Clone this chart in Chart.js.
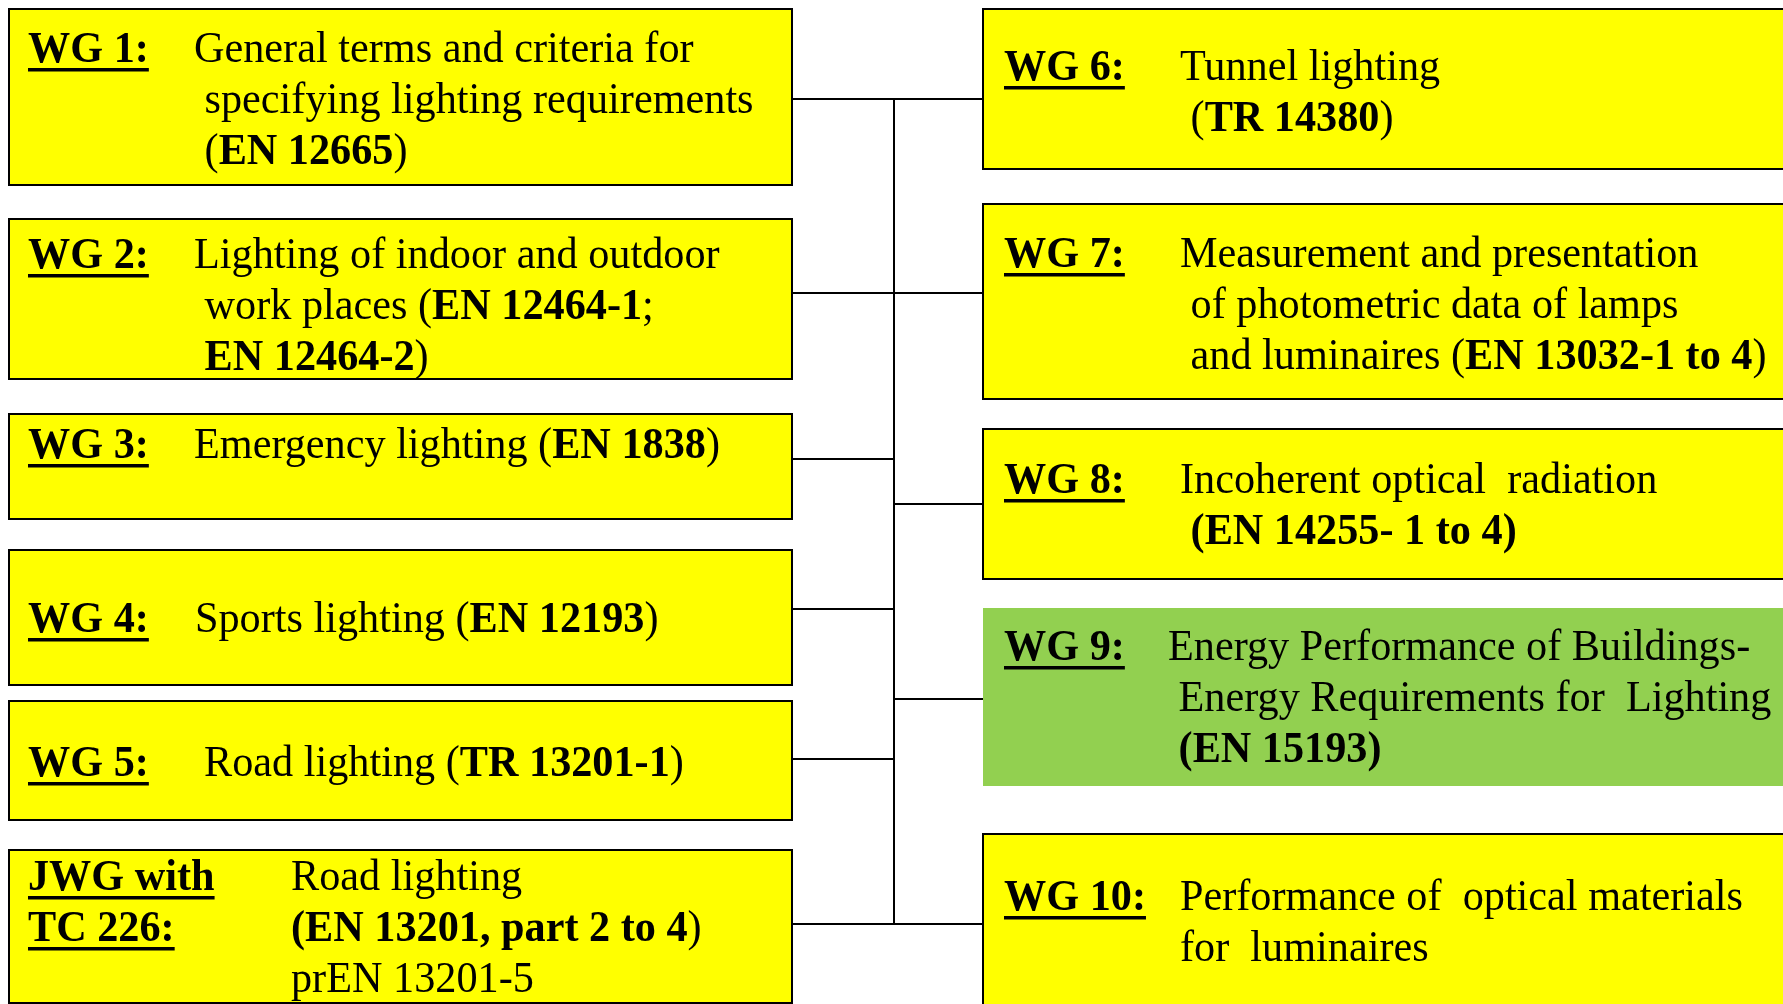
<!DOCTYPE html>
<html lang="en">
<head>
  <meta charset="UTF-8">
  <title>CEN/TC 169 working groups</title>
  <script src="https://cdn.jsdelivr.net/npm/chart.js"></script>
  <style>
    body {
      margin: 0;
      background: #fff;
      overflow: hidden;
    }
    #chart {
      display: block;
    }
  </style>
</head>
<body>
<canvas id="chart" width="1783" height="1004"></canvas>

<script>
// group names and their titles (**...** = bold)
const groupLabels = [
  ["WG 1:"], ["WG 2:"], ["WG 3:"], ["WG 4:"], ["WG 5:"], ["JWG with", "TC 226:"],
  ["WG 6:"], ["WG 7:"], ["WG 8:"], ["WG 9:"], ["WG 10:"]
];
const groupTitles = [
  ["General terms and criteria for", " specifying lighting requirements", " (**EN 12665**)"],
  ["Lighting of indoor and outdoor", " work places (**EN 12464-1**;", " **EN 12464-2**)"],
  ["Emergency lighting (**EN 1838**)"],
  ["Sports lighting (**EN 12193**)"],
  ["Road lighting (**TR 13201-1**)"],
  ["Road lighting", "**(EN 13201, part 2 to 4**)", "prEN 13201-5"],
  ["Tunnel lighting", " (**TR 14380**)"],
  ["Measurement and presentation", " of photometric data of lamps", " and luminaires (**EN 13032-1 to 4**)"],
  ["Incoherent optical  radiation", " **(EN 14255- 1 to 4)**"],
  ["Energy Performance of Buildings-", " Energy Requirements for  Lighting", " **(EN 15193)**"],
  ["Performance of  optical materials", "for  luminaires"]
];

// layout (diagram units = pixels of the original picture)
const boxLeft   = [9, 9, 9, 9, 9, 9, 983, 983, 983, 983, 983];
const boxRight  = [792, 792, 792, 792, 792, 792, 1800, 1800, 1800, 1800, 1800];
const boxTop    = [9, 219, 414, 550, 701, 850, 9, 204, 429, 608, 834];
const boxBottom = [185, 379, 519, 685, 820, 1003, 169, 399, 579, 786, 1020];
const boxFill   = ["#ffff00", "#ffff00", "#ffff00", "#ffff00", "#ffff00", "#ffff00",
                   "#ffff00", "#ffff00", "#ffff00", "#92d050", "#ffff00"];
const boxBorder = [2, 2, 2, 2, 2, 2, 2, 2, 2, 0, 2];
const labelX    = [28, 28, 28, 28, 28, 28, 1004, 1004, 1004, 1004, 1004];
const titleX    = [194, 194, 194, 195, 204, 291, 1180, 1180, 1180, 1168, 1180];
const firstLine = [62, 268, 458, 632, 776, 890, 80, 267, 493, 660, 910];
const lineGap = 51;

const trunkX = 894;
const leftLinkY  = [99, 293, 459, 609, 759, 924];
const rightLinkY = [99, 293, 504, 699, 924];

const FONT = '"Liberation Serif", "Times New Roman", serif';
const FONT_SIZE = 44;
const H_SCALE = 0.96;

const datasets = [];
boxLeft.forEach((l, i) => {
  const r = boxRight[i], t = boxTop[i], b = boxBottom[i];
  datasets.push({
    data: [{x: l, y: t}, {x: r, y: t}, {x: r, y: b}, {x: l, y: b}, {x: l, y: t}, {x: r, y: t}],
    showLine: true,
    fill: 'shape',
    backgroundColor: boxFill[i],
    borderColor: '#000',
    borderWidth: boxBorder[i],
    borderJoinStyle: 'miter',
    pointRadius: 0,
    tension: 0
  });
});

function link(x0, x1, y) {
  datasets.push({
    data: [{x: x0, y: y}, {x: x1, y: y}],
    showLine: true,
    fill: false,
    borderColor: '#000',
    borderWidth: 2,
    pointRadius: 0
  });
}
datasets.push({
  data: [{x: trunkX, y: leftLinkY[0]}, {x: trunkX, y: leftLinkY[leftLinkY.length - 1]}],
  showLine: true, fill: false, borderColor: '#000', borderWidth: 2, pointRadius: 0
});
leftLinkY.forEach(y => link(boxRight[0], trunkX, y));
rightLinkY.forEach(y => link(trunkX, boxLeft[6], y));

function drawRich(ctx, text, x, y) {
  const parts = text.split('**');
  ctx.save();
  ctx.translate(x, y);
  ctx.scale(H_SCALE, 1);
  let cx = 0;
  parts.forEach((p, k) => {
    if (!p) return;
    ctx.font = (k % 2 ? 'bold ' : '') + FONT_SIZE + 'px ' + FONT;
    ctx.fillText(p, cx, 0);
    cx += ctx.measureText(p).width;
  });
  ctx.restore();
}

const textPlugin = {
  id: 'boxText',
  afterDatasetsDraw(chart) {
    const ctx = chart.ctx;
    const sx = chart.scales.x, sy = chart.scales.y;
    ctx.save();
    ctx.fillStyle = '#000';
    ctx.textBaseline = 'alphabetic';
    groupLabels.forEach((lines, i) => {
      lines.forEach((s, j) => {
        const px = sx.getPixelForValue(labelX[i]);
        const py = sy.getPixelForValue(firstLine[i] + j * lineGap);
        ctx.save();
        ctx.translate(px, py);
        ctx.scale(H_SCALE, 1);
        ctx.font = 'bold ' + FONT_SIZE + 'px ' + FONT;
        ctx.fillText(s, 0, 0);
        const w = ctx.measureText(s).width;
        ctx.fillRect(0, 6, w, 3.5);
        ctx.restore();
      });
      groupTitles[i].forEach((s, j) => {
        drawRich(ctx, s, sx.getPixelForValue(titleX[i]), sy.getPixelForValue(firstLine[i] + j * lineGap));
      });
    });
    ctx.restore();
  }
};

new Chart(document.getElementById('chart'), {
  type: 'scatter',
  data: { datasets: datasets },
  options: {
    responsive: false,
    animation: false,
    layout: { padding: 0 },
    plugins: { legend: { display: false }, tooltip: { enabled: false } },
    scales: {
      x: { type: 'linear', min: 0, max: 1783, display: false },
      y: { type: 'linear', min: 0, max: 1004, reverse: true, display: false }
    }
  },
  plugins: [textPlugin]
});
</script>
</body>
</html>
